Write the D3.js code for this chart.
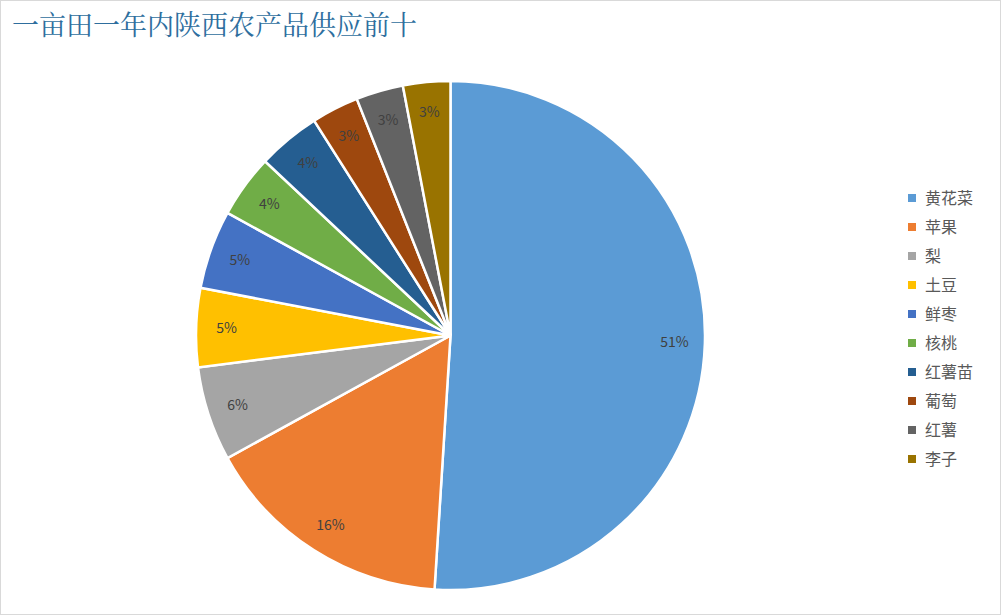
<!DOCTYPE html>
<html><head><meta charset="utf-8">
<script src="https://cdn.jsdelivr.net/npm/d3@7"></script>
<style>body{margin:0;background:#fff}</style></head>
<body><svg id="c" width="1001" height="615"></svg>
<script>
const categories=["黄花菜","苹果","梨","土豆","鲜枣","核桃","红薯苗","葡萄","红薯","李子"];
const values=[51,16,6,5,5,4,4,3,3,3];
const colors=["#5B9BD5","#ED7D31","#A5A5A5","#FFC000","#4472C4","#70AD47","#255E91","#9E480E","#636363","#997300"];
const title="一亩田一年内陕西农产品供应前十";
const svg=d3.select("#c");
svg.append("rect").attr("x",0.5).attr("y",0.5).attr("width",1000).attr("height",614).attr("fill","#fff").attr("stroke","#d9d9d9");
svg.append("text").attr("x",12).attr("y",35).text(title).attr("font-family","Noto Serif CJK SC, Noto Sans CJK SC").attr("font-size",27).attr("fill","#2e6e9e");
const cx=450.5,cy=335.5,r=254.5;
const pie=d3.pie().sort(null)(values);
const arc=d3.arc().innerRadius(0).outerRadius(r);
const g=svg.append("g").attr("transform",`translate(${cx},${cy})`);
g.selectAll("path").data(pie).join("path").attr("d",arc).attr("fill",(d,i)=>colors[i]).attr("stroke","#fff").attr("stroke-width",2.5);
const la=d3.arc().innerRadius(r*0.88).outerRadius(r*0.88);
g.selectAll("text").data(pie).join("text").attr("transform",d=>`translate(${la.centroid(d)})`)
 .attr("text-anchor","middle").attr("dy","0.35em").attr("font-family","Noto Sans CJK SC").attr("font-size",14).attr("fill","#404040")
 .text(d=>d.data+"%");
const lg=svg.append("g");
categories.forEach((c,i)=>{
 const y=198+i*29;
 lg.append("rect").attr("x",908).attr("y",y-4).attr("width",8).attr("height",8).attr("fill",colors[i]);
 lg.append("text").attr("x",925).attr("y",y).attr("dy","0.35em").text(c).attr("font-family","Noto Sans CJK SC").attr("font-size",16).attr("fill","#595959");
});
</script></body></html>
